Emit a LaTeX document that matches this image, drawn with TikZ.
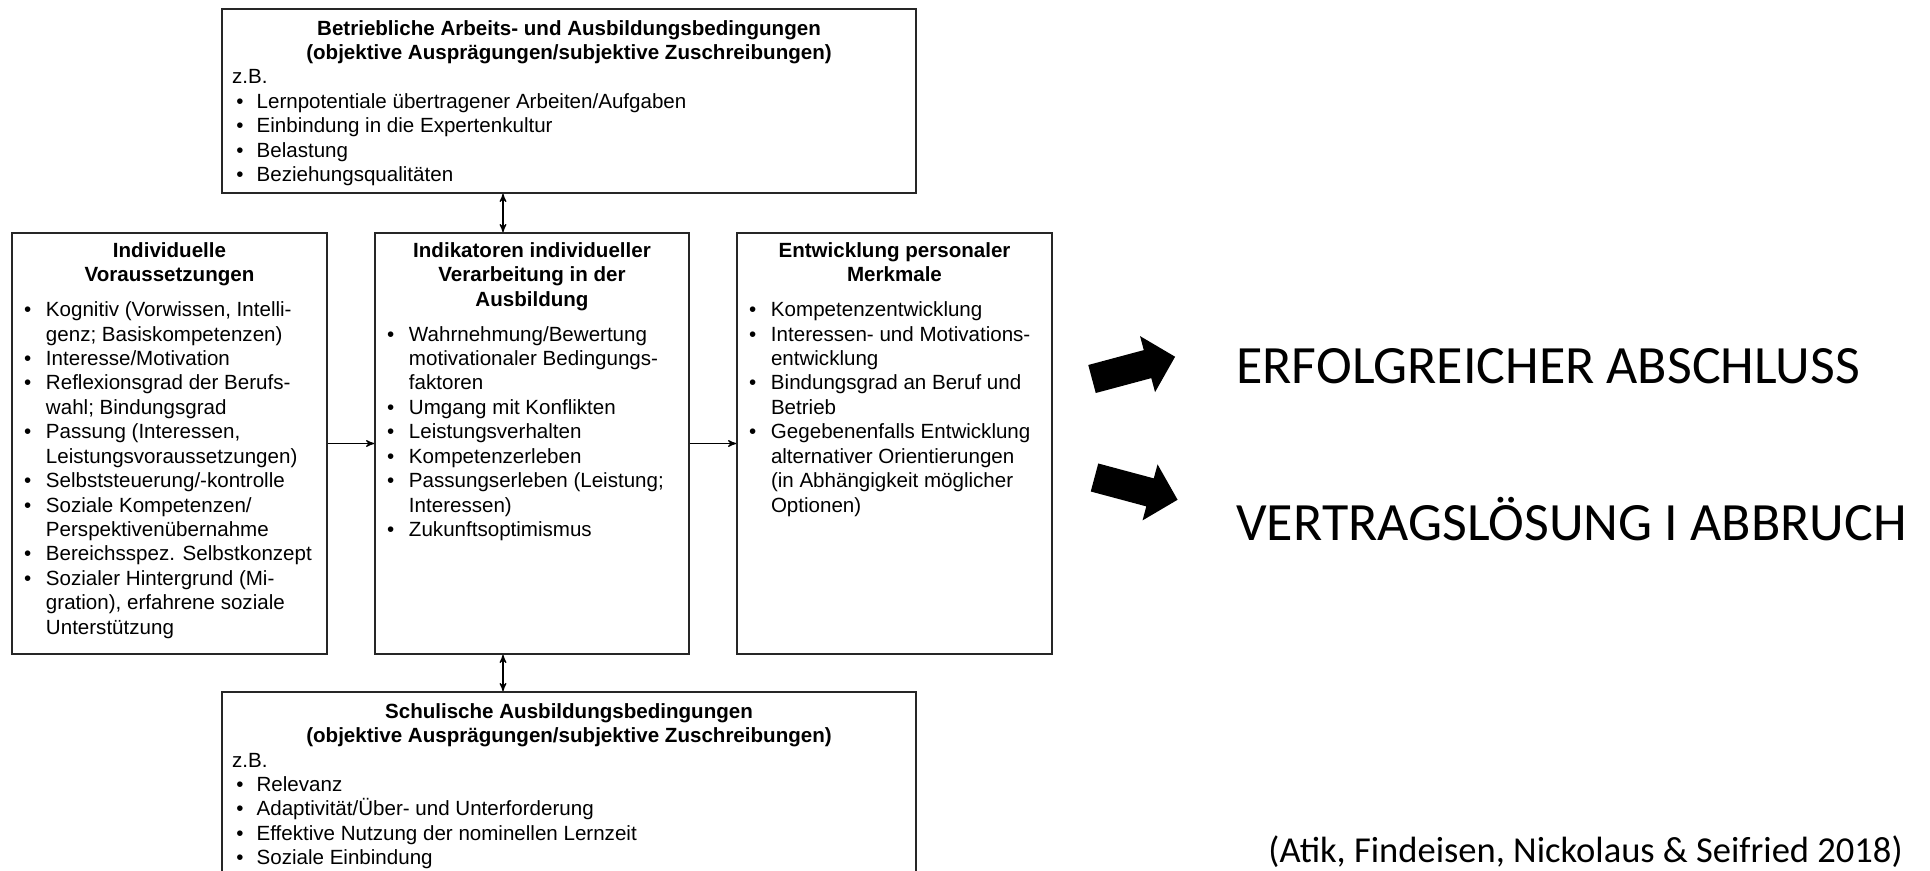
\documentclass[tikz,border=0pt]{standalone}
\usepackage{fontspec}
\setmainfont{Liberation Sans}
\newfontfamily\calibfont{Carlito}
\usetikzlibrary{positioning}
\usetikzlibrary{calc}
\usetikzlibrary{arrows}
\tikzset{>=stealth'}
\tikzset{panel/.style={draw=black!85,line width=1pt,inner xsep=0.24cm,inner ysep=0pt,font=\fontsize{11.7}{13.9}\selectfont}}
\tikzset{widepanel/.style={panel,inner xsep=0.2cm}}
\tikzset{link/.style={line width=0.7pt}}
\tikzset{bigarrow/.style={fill=black}}
\tikzset{result/.style={anchor=base west,inner sep=0pt,font=\calibfont\fontsize{30.7}{36}\selectfont}}

\newcommand{\bul}{\makebox[12.5pt][l]{\textbullet}}
\newcommand{\zbul}{\hspace*{2.5pt}\makebox[11.5pt][l]{\textbullet}}
\newcommand{\contl}{\hspace*{12.5pt}}
\newcommand{\panelbody}[4]{\parbox[c][#1][t]{#2}{\vspace*{#3}\raggedright\hyphenpenalty=10000 #4}}

\begin{document}
\begin{tikzpicture}[x=0.02cm,y=-0.02cm]
\useasboundingbox (0,0) rectangle (1930,871);

\node[widepanel] (betrieb) at (569,101) {\panelbody{3.68cm}{13.48cm}{6.4pt}{%
{\centering\bfseries Betriebliche Arbeits- und Ausbildungsbedingungen\\(objektive Ausprägungen/subjektive Zuschreibungen)\par}
z.B.\\
\zbul Lernpotentiale übertragener Arbeiten/Aufgaben\\
\zbul Einbindung in die Expertenkultur\\
\zbul Belastung\\
\zbul Beziehungsqualitäten}};

\node[panel] (indiv) at (169.5,443.5) {\panelbody{8.42cm}{5.82cm}{5.3pt}{%
{\centering\bfseries Individuelle\\Voraussetzungen\par}\vspace{6pt}
\bul Kognitiv (Vorwissen, Intelli-\\
\contl genz; Basiskompetenzen)\\
\bul Interesse/Motivation\\
\bul Reflexionsgrad der Berufs-\\
\contl wahl; Bindungsgrad\\
\bul Passung (Interessen,\\
\contl Leistungsvoraussetzungen)\\
\bul Selbststeuerung/-kontrolle\\
\bul Soziale Kompetenzen/\\
\contl Perspektivenübernahme\\
\bul Bereichsspez. Selbstkonzept\\
\bul Sozialer Hintergrund (Mi-\\
\contl gration), erfahrene soziale\\
\contl Unterstützung}};

\node[panel] (verarb) at (532,443.5) {\panelbody{8.42cm}{5.80cm}{5.3pt}{%
{\centering\bfseries Indikatoren individueller\\Verarbeitung in der\\Ausbildung\par}\vspace{6pt}
\bul Wahrnehmung/Bewertung\\
\contl motivationaler Bedingungs-\\
\contl faktoren\\
\bul Umgang mit Konflikten\\
\bul Leistungsverhalten\\
\bul Kompetenzerleben\\
\bul Passungserleben (Leistung;\\
\contl Interessen)\\
\bul Zukunftsoptimismus}};

\node[panel] (entw) at (894.5,443.5) {\panelbody{8.42cm}{5.82cm}{5.3pt}{%
{\centering\bfseries Entwicklung personaler\\Merkmale\par}\vspace{6pt}
\bul Kompetenzentwicklung\\
\bul Interessen- und Motivations-\\
\contl entwicklung\\
\bul Bindungsgrad an Beruf und\\
\contl Betrieb\\
\bul Gegebenenfalls Entwicklung\\
\contl alternativer Orientierungen\\
\contl (in Abhängigkeit möglicher\\
\contl Optionen)}};

\node[widepanel] (schul) at (569,784) {\panelbody{3.68cm}{13.48cm}{6.4pt}{%
{\centering\bfseries Schulische Ausbildungsbedingungen\\(objektive Ausprägungen/subjektive Zuschreibungen)\par}
z.B.\\
\zbul Relevanz\\
\zbul Adaptivität/Über- und Unterforderung\\
\zbul Effektive Nutzung der nominellen Lernzeit\\
\zbul Soziale Einbindung}};

\draw[link,->] (indiv) -- (verarb);
\draw[link,->] (verarb) -- (entw);
\draw[link,<->] ([xshift=-0.58cm]verarb.north) -- ([xshift=-0.58cm]verarb.north |- betrieb.south);
\draw[link,<->] ([xshift=-0.58cm]verarb.south) -- ([xshift=-0.58cm]verarb.south |- schul.north);

% outcomes
\fill[bigarrow,shift={(1092,379)},rotate=15] (0,-14.5) -- (57.5,-14.5) -- (57.5,-29) -- (86,0) -- (57.5,29) -- (57.5,14.5) -- (0,14.5) -- cycle;
\fill[bigarrow,shift={(1094.5,477.5)},rotate=-15] (0,-14.5) -- (57.5,-14.5) -- (57.5,-29) -- (86,0) -- (57.5,29) -- (57.5,14.5) -- (0,14.5) -- cycle;

\node[result] (erfolg) at (1236,383) {ERFOLGREICHER ABSCHLUSS};
\node[result] (abbruch) at (1236,540) {VERTRAGSLÖSUNG I ABBRUCH};
\node[anchor=base east,inner sep=0pt,font=\calibfont\fontsize{20.8}{25}\selectfont] (quelle) at (1903,862) {(Atik, Findeisen, Nickolaus \& Seifried 2018)};
\end{tikzpicture}
\end{document}
